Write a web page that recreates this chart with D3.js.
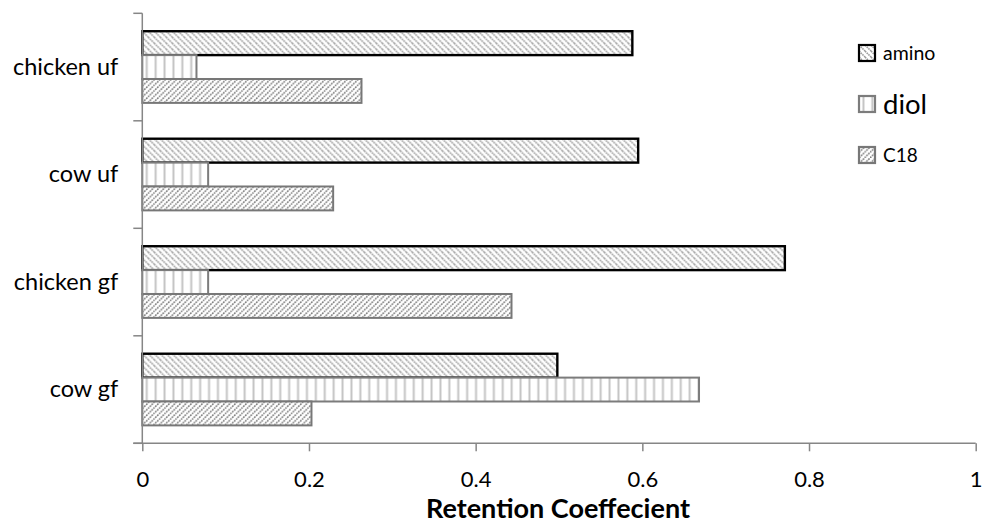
<!DOCTYPE html>
<html>
<head>
<meta charset="utf-8">
<script src="https://cdn.jsdelivr.net/npm/d3@7/dist/d3.min.js"></script>
<style>
  html, body { margin: 0; padding: 0; background: #fff; }
  svg { display: block; font-family: Lato, 'Open Sans', sans-serif; }
</style>
</head>
<body>
<svg width="982" height="523"></svg>
<script>
// top to bottom
const categories = ['chicken uf', 'cow uf', 'chicken gf', 'cow gf']
const series = ['amino', 'diol', 'C18']
const amino = [0.588, 0.595, 0.771, 0.498]
const diol = [0.065, 0.079, 0.079, 0.668]
const c18 = [0.263, 0.229, 0.443, 0.203]
const xTicks = [0, 0.2, 0.4, 0.6, 0.8, 1]
const xTitle = 'Retention Coeffecient'

const values = { amino, diol, C18: c18 }

const svg = d3.select('svg')
const margin = { top: 13.3, right: 6.3, bottom: 79.7, left: 142.3 }
const width = 982 - margin.left - margin.right
const height = 523 - margin.top - margin.bottom
const axisColor = '#868686'
const font = "Lato, 'Open Sans', sans-serif"

// patterns, one per series
const defs = svg.append('defs')
const hatch = (id, size, draw) => {
  const p = defs.append('pattern').attr('id', id)
    .attr('patternUnits', 'userSpaceOnUse')
    .attr('width', size).attr('height', size)
  p.append('rect').attr('width', size).attr('height', size).attr('fill', '#fff')
  draw(p, size)
}
hatch('pat-amino', 6, (p, s) => {
  p.append('path').attr('d', `M0,0L${s},${s}M${-s},0L${s},${2 * s}M0,${-s}L${2 * s},${s}`)
    .attr('stroke', '#9a9a9a').attr('stroke-width', 1.6).attr('stroke-dasharray', '1.6 0.8')
})
hatch('pat-diol', 8.9, (p, s) => {
  p.append('line').attr('x1', s / 2).attr('x2', s / 2).attr('y1', 0).attr('y2', s)
    .attr('stroke', '#c4c4c4').attr('stroke-width', 2)
})
hatch('pat-C18', 5.5, (p, s) => {
  p.append('path').attr('d', `M0,${s}L${s},0M${-s},${s}L0,0M${s},${2 * s}L${2 * s},${s}`)
    .attr('stroke', '#7a7a7a').attr('stroke-width', 1.5).attr('stroke-dasharray', '1.8 0.9')
})

const style = {
  amino: { stroke: '#000', sw: 2.4 },
  diol: { stroke: '#7c7c7c', sw: 2 },
  C18: { stroke: '#777', sw: 2 }
}

const g = svg.append('g')
  .attr('transform', `translate(${margin.left},${margin.top})`)

const x = d3.scaleLinear().domain([0, 1]).range([0, width])
const y0 = d3.scaleBand().domain(categories).range([0, height])
  .paddingInner(1 / 3).paddingOuter(1 / 6)
const y1 = d3.scaleBand().domain(series).range([0, y0.bandwidth()])

// bars
const rows = categories.map((c, i) => ({ c, vals: series.map(s => ({ s, v: values[s][i] })) }))
g.selectAll('g.cat').data(rows).join('g')
  .attr('class', 'cat')
  .attr('transform', d => `translate(0,${y0(d.c)})`)
  .selectAll('rect').data(d => d.vals).join('rect')
  .attr('x', x(0))
  .attr('y', d => y1(d.s))
  .attr('width', d => x(d.v) - x(0))
  .attr('height', y1.bandwidth())
  .attr('fill', d => `url(#pat-${d.s})`)
  .attr('stroke', d => style[d.s].stroke)
  .attr('stroke-width', d => style[d.s].sw)

// x axis
const xAxis = g.append('g')
  .attr('transform', `translate(0,${height})`)
  .call(d3.axisBottom(x).tickValues(xTicks).tickFormat(d3.format('~g'))
    .tickSize(8).tickSizeOuter(0).tickPadding(20.5))
xAxis.select('.domain').attr('stroke', axisColor).attr('stroke-width', 1.5)
  .attr('d', `M-9,0H${width}`)
xAxis.selectAll('.tick line').attr('stroke', axisColor).attr('stroke-width', 1.5)
xAxis.selectAll('.tick text').attr('fill', '#000').attr('font-size', 22)
  .attr('font-family', font)

// y axis: labels at band centres, ticks at band boundaries
const yAxis = g.append('g')
  .call(d3.axisLeft(y0).tickSize(0).tickPadding(24))
yAxis.select('.domain').attr('stroke', axisColor).attr('stroke-width', 1.5)
  .attr('d', `M0,0V${height}`)
yAxis.selectAll('.tick text').attr('fill', '#000').attr('font-size', 23.5)
  .attr('font-family', font)
const bounds = d3.range(categories.length + 1).map(i => i * y0.step())
yAxis.selectAll('line.bound').data(bounds).join('line')
  .attr('class', 'bound')
  .attr('x1', -9).attr('x2', 0)
  .attr('y1', d => d).attr('y2', d => d)
  .attr('stroke', axisColor).attr('stroke-width', 1.5)

// axis title
g.append('text')
  .attr('x', width / 2 - 1)
  .attr('y', height + 75)
  .attr('text-anchor', 'middle')
  .attr('font-size', 27)
  .attr('font-weight', 'bold')
  .text(xTitle)

// legend
const legend = svg.append('g').attr('transform', 'translate(859,0)')
const legendItems = [
  { s: 'amino', y: 45, fs: 19.5 },
  { s: 'diol', y: 96, fs: 27.5 },
  { s: 'C18', y: 147, fs: 19 }
]
const li = legend.selectAll('g').data(legendItems).join('g')
  .attr('transform', d => `translate(0,${d.y})`)
li.append('rect')
  .attr('width', 16).attr('height', 16)
  .attr('fill', d => `url(#pat-${d.s})`)
  .attr('stroke', d => style[d.s].stroke)
  .attr('stroke-width', 2.2)
li.append('text')
  .attr('x', 24).attr('y', 8)
  .attr('dy', '0.35em')
  .attr('font-size', d => d.fs)
  .text(d => d.s)
</script>
</body>
</html>
